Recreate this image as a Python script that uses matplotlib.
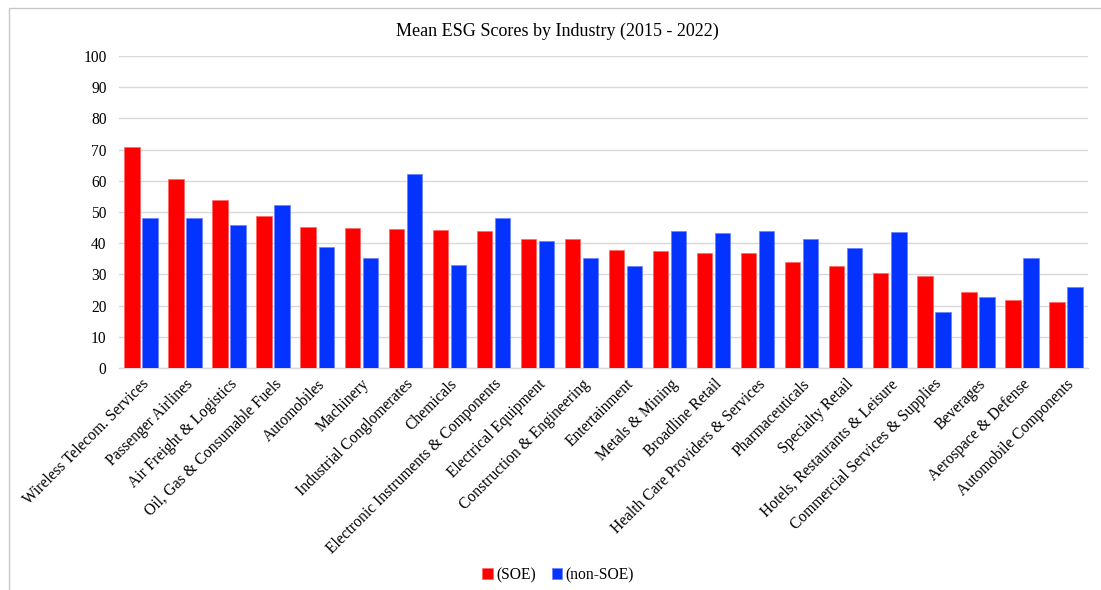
import numpy as np
from matplotlib import pyplot as plt
from matplotlib.patches import Rectangle

industries = ["Wireless Telecom. Services", "Passenger Airlines", "Air Freight & Logistics",
              "Oil, Gas & Consumable Fuels", "Automobiles", "Machinery", "Industrial Conglomerates",
              "Chemicals", "Electronic Instruments & Components", "Electrical Equipment",
              "Construction & Engineering", "Entertainment", "Metals & Mining", "Broadline Retail",
              "Health Care Providers & Services", "Pharmaceuticals", "Specialty Retail",
              "Hotels, Restaurants & Leisure", "Commercial Services & Supplies", "Beverages",
              "Aerospace & Defense", "Automobile Components"]
soe = [70.7, 60.7, 53.8, 48.8, 45.1, 45.0, 44.5, 44.2, 44.0, 41.5, 41.4,
       37.7, 37.5, 36.9, 36.9, 33.9, 32.6, 30.4, 29.6, 24.4, 21.8, 21.2]
non_soe = [48.2, 48.0, 45.9, 52.3, 38.7, 35.4, 62.2, 33.0, 48.2, 40.8, 35.1,
           32.7, 43.9, 43.2, 43.9, 41.3, 38.4, 43.5, 18.0, 22.7, 35.4, 26.1]

plt.rcParams['font.family'] = ['Liberation Serif', 'DejaVu Serif']

fig = plt.figure(figsize=(11.01, 5.90), dpi=100)
ax = fig.add_axes([119/1101, 1 - 368/590, (1088 - 119)/1101, (368 - 56)/590])

x = np.arange(len(industries))
w = 0.35
ax.bar(x - 0.205, soe, w, color='#FF0000', edgecolor='#FF6666', linewidth=0.5, label='(SOE)', zorder=3)
ax.bar(x + 0.205, non_soe, w, color='#0433FF', edgecolor='#6680FF', linewidth=0.5, label='(non-SOE)', zorder=3)

ax.set_xlim(-0.5, len(industries) - 0.5)
ax.set_ylim(0, 100)
ax.set_yticks(range(0, 101, 10))
ax.yaxis.grid(True, color='#D9D9D9', linewidth=1.0, zorder=0)
for s in ['top', 'right', 'left']:
    ax.spines[s].set_visible(False)
ax.spines['bottom'].set_color('#D9D9D9')
ax.spines['bottom'].set_linewidth(1.0)
ax.tick_params(axis='both', length=0, labelsize=11.2, colors='black')
ax.tick_params(axis='y', pad=9)
ax.set_xticks(x)
ax.set_xticklabels(industries, rotation=45, ha='right', rotation_mode='anchor')
ax.tick_params(axis='x', pad=6)

fig.text(0.506, 1 - 31/590, "Mean ESG Scores by Industry (2015 - 2022)", ha='center', va='center', fontsize=13)

fig.legend(loc='center', bbox_to_anchor=(0.507, 1 - 575/590), ncol=2, frameon=False,
           fontsize=11.2, handlelength=0.7, handleheight=0.7, handletextpad=0.2, columnspacing=1.0)

# thin chart border
fig.patches.append(Rectangle((9/1101, -0.1), 1.2, 1 - 8/590 + 0.1, transform=fig.transFigure,
                             fill=False, edgecolor='#C8C8C8', linewidth=1.0))

fig.savefig('out.png', dpi=100)
